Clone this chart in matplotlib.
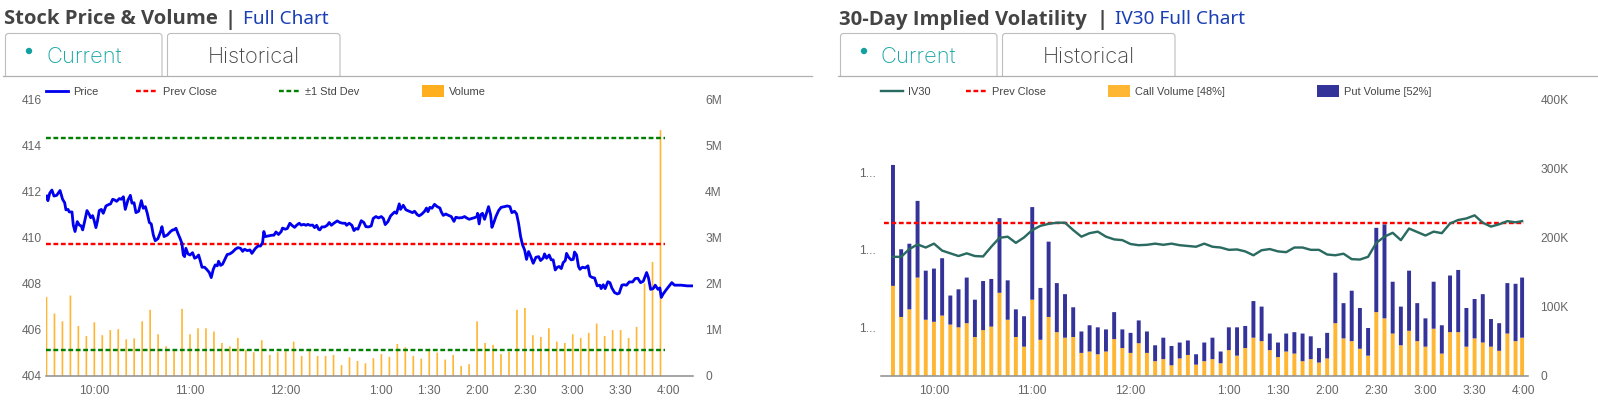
import matplotlib
matplotlib.use("Agg")
import matplotlib.pyplot as plt
from matplotlib.lines import Line2D
from matplotlib.patches import Rectangle, Circle, FancyBboxPatch

W, H = 1598, 404

# ---------- data: stock price & volume ----------
price_minutes = [0.1,0.9,2.0,3.4,4.7,6.4,8.5,10.1,11.4,12.2,13.5,14.3,16.0,16.8,17.9,19.3,20.6,21.8,22.7,23.9,25.4,26.9,27.7,28.9,29.8,31.0,31.9,33.1,34.4,35.6,37.3,39.0,40.2,41.5,42.7,44.0,45.7,46.9,48.2,49.4,51.1,52.6,53.6,54.9,56.1,57.8,59.5,60.7,62.0,63.2,64.5,65.7,67.0,68.2,69.9,71.6,72.4,73.7,75.8,77.8,79.1,
 79.9,81.2,82.4,83.7,84.9,85.8,86.6,87.4,88.7,90.0,91.6,92.9,94.1,95.4,96.6,97.5,99.1,100.4,102.1,103.3,104.6,105.8,107.1,107.9,109.2,110.4,112.1,113.3,115.0,116.7,118.4,120.0,121.7,123.0,124.2,125.9,127.6,128.8,130.9,132.6,134.2,135.5,136.3,137.2,139.3,141.4,142.6,143.9,145.5,147.2,148.0,149.7,151.0,152.6,153.9,155.6,156.8,158.5,
 159.7,161.4,162.7,163.9,165.2,166.9,168.1,169.4,170.6,171.4,172.7,174.4,176.0,177.3,178.6,180.2,182.3,184.0,185.7,187.3,188.2,189.8,191.5,192.8,194.0,195.3,197.4,199.0,200.3,202.0,203.6,204.9,206.6,208.2,209.9,211.2,212.4,214.1,215.8,217.4,218.3,219.5,221.2,222.0,223.7,225.4,227.5,229.5,230.8,232.5,233.7,235.4,237.1,
 238.3,239.2,240.4,241.7,243.3,245.0,246.7,247.5,248.8,250.4,252.1,253.8,255.5,256.7,258.4,260.5,262.2,263.4,265.1,266.8,268.4,269.9,270.3,271.3,272.2,273.4,274.7,276.2,277.2,278.5,279.3,280.5,281.8,283.5,285.1,287.2,288.9,290.6,291.8,293.5,294.8,296.0,297.3,298.5,299.8,301.0,302.3,303.5,305.2,306.9,308.6,309.8,311.5,312.3,313.6,315.2,316.5,
 317.7,319.0,320.3,321.5,322.8,324.0,325.3,326.1,327.4,329.0,330.3,331.1,332.4,333.6,334.5,336.1,337.8,339.5,340.7,342.0,343.7,345.3,347.0,347.8,349.1,350.3,352.0,353.3,354.5,356.2,357.9,359.1,360.8,362.1,363.7,365.4,367.5,369.2,370.8,372.5,374.2,376.3,377.5,378.8,380.4,381.7,383.4,384.6,385.5,386.7,388.8,390.5,392.1,393.8,395.9,398.0,401.8,404.7]
price_values = [411.80,411.60,411.92,412.06,411.80,411.83,412.04,411.66,411.51,411.20,411.22,411.11,411.11,410.54,410.26,410.69,410.54,410.50,410.33,410.69,411.17,410.99,410.86,410.95,410.76,410.43,410.69,411.17,411.22,411.05,411.37,411.43,411.46,411.66,411.63,411.57,411.69,411.66,411.77,411.22,411.63,411.83,411.49,411.51,411.08,411.14,411.60,411.27,411.34,411.05,410.65,410.59,410.11,409.86,409.95,410.26,410.47,410.04,410.11,410.26,410.33,
 410.33,410.40,410.18,409.97,409.75,409.24,409.17,409.53,409.29,409.24,409.34,409.10,409.14,409.24,408.95,408.71,408.71,408.62,408.48,408.26,408.62,408.81,408.77,408.97,408.79,408.84,409.08,409.26,409.29,409.37,409.49,409.56,409.53,409.40,409.49,409.43,409.46,409.31,409.52,409.63,409.63,409.78,410.26,410.04,410.07,410.10,410.10,410.24,410.13,410.26,410.41,410.36,410.39,410.62,410.53,410.44,410.53,410.62,
 410.54,410.57,410.53,410.57,410.53,410.54,410.43,410.53,410.36,410.33,410.46,410.46,410.53,410.65,410.53,410.62,410.72,410.65,410.62,410.62,410.53,410.62,410.53,410.30,410.39,410.36,410.73,410.65,410.47,410.46,410.50,410.83,410.91,410.85,410.91,410.83,410.56,410.69,410.94,411.05,411.11,411.05,411.46,411.22,411.40,411.20,411.14,411.08,411.14,410.99,410.94,411.02,411.14,
 411.28,411.12,411.31,411.27,411.44,411.34,411.28,411.12,410.96,411.02,410.96,410.91,410.70,410.88,410.85,410.86,410.91,410.85,410.79,410.83,410.86,410.91,411.05,410.59,410.99,411.05,410.79,411.12,411.34,410.98,410.44,410.65,410.91,411.17,411.31,411.34,411.37,411.34,411.08,411.14,411.02,410.62,410.04,409.68,409.46,409.05,409.39,409.20,408.88,409.14,409.17,409.00,409.11,409.29,409.10,409.24,409.03,
 409.03,408.59,408.71,408.74,408.65,408.91,409.00,409.31,409.14,409.03,409.05,409.37,409.24,408.74,408.62,408.71,408.68,408.77,408.33,408.27,408.24,407.90,407.93,407.78,407.95,407.78,408.08,408.04,407.81,407.61,407.55,407.58,407.93,407.95,407.93,408.07,408.07,408.22,408.23,408.04,408.10,408.48,408.24,407.75,407.78,407.93,407.75,407.81,407.40,407.55,407.75,407.90,408.04,407.93,407.93,407.93,407.90,407.90]
volume_minutes = list(range(0, 390, 5))
volume_millions = [1.71,1.35,1.18,1.74,1.08,0.86,1.16,0.88,0.99,1.01,0.79,0.81,1.18,1.43,0.90,0.64,0.56,1.45,0.90,1.03,1.03,0.96,0.71,0.64,0.82,0.56,0.51,0.77,0.45,0.51,0.56,0.74,0.43,0.56,0.43,0.43,0.45,0.23,0.40,0.32,0.27,0.38,0.47,0.41,0.69,
 0.62,0.43,0.37,0.56,0.50,0.35,0.45,0.21,0.25,1.18,0.71,0.67,0.47,0.52,1.43,1.47,0.88,0.84,1.03,0.74,0.71,0.90,0.82,0.93,1.13,0.86,0.99,0.99,0.82,1.06,2.00,2.47,5.33]
price_prev_close = 409.72
std_upper = 414.31
std_lower = 405.12
level_span = [0, 388]
price_ticks = [404, 406, 408, 410, 412, 414, 416]
volume_ticks = [0, 1, 2, 3, 4, 5, 6]
volume_tick_labels = ["0", "1M", "2M", "3M", "4M", "5M", "6M"]

# ---------- data: implied volatility ----------
iv_minutes = list(range(5, 390, 5)) + [389]
iv30 = [11.82,11.82,12.02,12.14,12.06,12.16,11.98,11.91,11.84,11.91,11.84,11.83,12.08,12.31,12.34,12.18,12.32,12.51,12.62,12.67,12.70,12.70,12.51,12.34,12.43,12.47,12.34,12.27,12.25,12.15,12.12,12.13,12.16,12.13,12.16,12.12,12.10,12.08,
 12.16,12.08,12.06,12.00,12.01,11.96,11.86,11.99,12.02,11.96,11.94,12.06,12.06,12.00,12.00,11.88,11.86,11.90,11.76,11.75,11.82,12.18,12.34,12.44,12.25,12.55,12.46,12.37,12.47,12.43,12.68,12.77,12.81,12.89,12.70,12.60,12.66,12.74,12.71,12.74]
call_k = [130,85,96,142,81,78,87,74,70,76,56,66,71,120,81,56,42,110,52,85,63,55,56,33,35,31,35,53,40,33,47,33,21,24,15,25,30,16,
 21,24,18,37,29,40,55,50,37,27,35,32,21,24,19,25,76,54,50,39,29,92,83,61,44,65,50,42,68,32,63,63,42,54,48,42,36,61,50,55]
call_plus_put_k = [305,183,191,253,152,155,170,116,125,142,110,137,140,228,138,96,86,244,127,194,134,118,99,64,73,70,67,92,67,62,80,64,44,55,43,48,51,31,
 48,55,35,70,70,72,108,100,61,48,61,63,61,57,40,62,149,105,123,98,69,214,219,136,100,152,105,83,136,73,145,153,98,111,118,82,76,134,133,142]
iv_prev_close = 12.68
iv_span = [-0.5, 390]
iv_ticks = [10, 12, 14]
iv_tick_labels = ["1...", "1...", "1..."]
opt_ticks = [0, 100, 200, 300, 400]
opt_tick_labels = ["0", "100K", "200K", "300K", "400K"]

session_ticks = [30, 90, 150, 210, 240, 270, 300, 330, 360, 390]
session_labels = ["10:00", "11:00", "12:00", "1:00", "1:30", "2:00", "2:30", "3:00", "3:30", "4:00"]

# ---------- styles ----------
SANS = "Liberation Sans"
TICK = "#666666"
LEG = "#444444"
DASH = (2.0, 1.1)
BLUE = "#0000EE"
ORANGE = "#FFAE1F"
CALL = "#FFB733"
PUT = "#333399"
TEAL = "#2A6A60"
px = 0.72  # points per pixel at dpi 100

fig = plt.figure(figsize=(W / 100, H / 100), dpi=100, facecolor="white")


def fx(x):
    return x / W


def fy(y):
    return 1 - y / H


def make_axes(x0, x1, y_top=99.3, y_bot=375.7):
    return fig.add_axes([fx(x0), fy(y_bot), fx(x1 - x0), (y_bot - y_top) / H])


def style(ax):
    for s in ("top", "left", "right"):
        ax.spines[s].set_visible(False)
    ax.spines["bottom"].set_color("#8c8c8c")
    ax.spines["bottom"].set_linewidth(1.1)
    ax.tick_params(length=0, labelsize=12 * px, labelcolor=TICK)
    for lab in ax.get_xticklabels() + ax.get_yticklabels():
        lab.set_fontfamily(SANS)


def dual_axes(x0, x1, t0, t1):
    back = make_axes(x0, x1)
    front = make_axes(x0, x1)
    front.set_zorder(back.get_zorder() + 1)
    front.patch.set_visible(False)
    back.yaxis.tick_right()
    for a in (back, front):
        a.set_xlim(t0, t1)
        a.set_xticks(session_ticks)
        a.set_xticklabels(session_labels)
        a.tick_params(axis="x", pad=9 * px)
    front.tick_params(axis="y", pad=4.5 * px)
    back.tick_params(axis="y", pad=12.3 * px)
    front.xaxis.set_visible(False)
    front.spines["bottom"].set_visible(False)
    return back, front


# ---------- left chart ----------
vol_ax, px_ax = dual_axes(46, 692.7, -0.3, 405.2)
vol_ax.set_ylim(0, 6)
vol_ax.set_yticks(volume_ticks)
vol_ax.set_yticklabels(volume_tick_labels)
for bar in vol_ax.bar(volume_minutes, volume_millions, width=1.05, color=ORANGE, alpha=0.9, linewidth=0):
    bar.set_snap(False)
px_ax.set_ylim(404, 416)
px_ax.set_yticks(price_ticks)
DLW = 2.4 * px
px_ax.plot(level_span, [std_upper] * 2, color="#008000", lw=DLW, ls=(0, DASH))
px_ax.plot(level_span, [std_lower] * 2, color="#008000", lw=DLW, ls=(0, DASH))
px_ax.plot(level_span, [price_prev_close] * 2, color="#FF0000", lw=DLW, ls=(0, DASH))
px_ax.plot(price_minutes, price_values, color=BLUE, lw=2.8 * px, solid_joinstyle="round")
style(vol_ax)
style(px_ax)
px_ax.spines["bottom"].set_visible(False)

# ---------- right chart ----------
opt_ax, iv_ax = dual_axes(880.7, 1528, -2.5, 392.6)
opt_ax.set_ylim(0, 400)
opt_ax.set_yticks(opt_ticks)
opt_ax.set_yticklabels(opt_tick_labels)
put_k = [t - c for t, c in zip(call_plus_put_k, call_k)]
for bar in opt_ax.bar(iv_minutes, call_k, width=2.4, color=CALL, linewidth=0):
    bar.set_snap(False)
for bar in opt_ax.bar(iv_minutes, put_k, bottom=call_k, width=2.4, color=PUT, linewidth=0):
    bar.set_snap(False)
iv_ax.set_ylim(8.753, 15.884)
iv_ax.set_yticks(iv_ticks)
iv_ax.set_yticklabels(iv_tick_labels)
iv_ax.plot(iv_span, [iv_prev_close] * 2, color="#FF0000", lw=DLW, ls=(0, DASH))
iv_ax.plot(iv_minutes, iv30, color=TEAL, lw=2.4 * px, solid_joinstyle="round")
style(opt_ax)
style(iv_ax)
iv_ax.spines["bottom"].set_visible(False)


# ---------- legends (drawn in figure pixels) ----------
def leg_line(x0, x1, color, label, dashed=False, lw=2.4):
    kw = {"ls": (0, DASH)} if dashed else {}
    fig.add_artist(Line2D([fx(x0), fx(x1)], [fy(91)] * 2, color=color, lw=lw * px,
                          transform=fig.transFigure, **kw))
    fig.text(fx(x1 + 5), fy(91), label, fontsize=11 * px, family=SANS, color=LEG, va="center_baseline")


def leg_box(x0, color, label):
    fig.add_artist(Rectangle((fx(x0), fy(96.5)), 22 / W, 11 / H, color=color, lw=0,
                             transform=fig.transFigure))
    fig.text(fx(x0 + 27), fy(91), label, fontsize=11 * px, family=SANS, color=LEG, va="center_baseline")


leg_line(46, 68, BLUE, "Price", lw=2.8)
leg_line(136, 158, "#FF0000", "Prev Close", dashed=True)
leg_line(278.5, 300, "#008000", "±1 Std Dev", dashed=True)
leg_box(422, ORANGE, "Volume")
leg_line(881, 903, TEAL, "IV30")
leg_line(966, 987.5, "#FF0000", "Prev Close", dashed=True)
leg_box(1108, CALL, "Call Volume [48%]")
leg_box(1316.5, PUT, "Put Volume [52%]")


# ---------- page furniture: headings and tabs ----------
def header(x, title, x_bar, link, x_link):
    fig.text(fx(x), fy(17), title, fontsize=20.3 * px, family="Open Sans", weight="bold",
             color="#444444", va="center_baseline")
    fig.text(fx(x_bar), fy(17), "|", fontsize=20.3 * px, family="Open Sans", weight="bold",
             color="#444444", va="center_baseline", ha="center")
    fig.text(fx(x_link), fy(17), link, fontsize=19 * px, family="Noto Sans",
             color="#1A3FB5", va="center_baseline")


def tab(x0, x1):
    fig.add_artist(FancyBboxPatch((x0, H - 90), x1 - x0, 56.5, boxstyle="round,pad=0,rounding_size=3",
                                  transform=None, fc="white", ec="#bdbdbd", lw=0.8, clip_on=True,
                                  clip_box=matplotlib.transforms.Bbox([[0, H - 75.5], [W, H]])))


def tabs(x1, x2, x3, x4, dot_x, cur_x, hist_x):
    tab(x1, x2)
    tab(x3, x4)
    fig.add_artist(Circle((dot_x, H - 51), 3.2, transform=None, fc="#12A0A0", ec="none"))
    fig.text(fx(cur_x), fy(55), "Current", fontsize=22 * px, family="Inter", weight="light",
             color="#1AA5A5", va="center_baseline")
    fig.text(fx(hist_x), fy(55), "Historical", fontsize=22 * px, family="Inter", weight="light",
             color="#444444", va="center_baseline", ha="center")


header(4, "Stock Price & Volume", 230, "Full Chart", 243)
header(839, "30-Day Implied Volatility", 1102.5, "IV30 Full Chart", 1115)
tabs(5.5, 162, 167.5, 340, 29, 46, 254)
tabs(840.5, 997, 1002.5, 1175, 864, 881, 1089)
for a, b in ((3, 812), (838, 1598)):
    fig.add_artist(Line2D([fx(a), fx(b)], [fy(75.5)] * 2, color="#b0b0b0", lw=0.9,
                          transform=fig.transFigure))

fig.savefig("out.png", dpi=100, facecolor="white")
